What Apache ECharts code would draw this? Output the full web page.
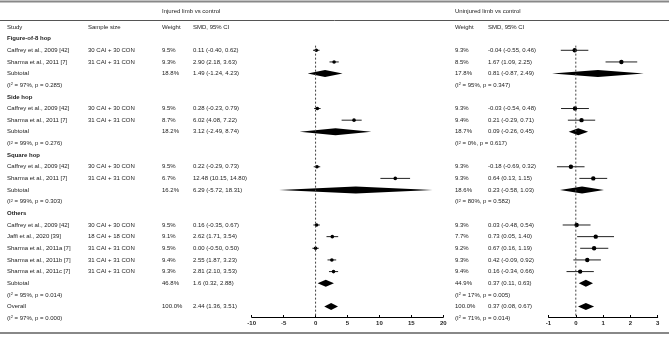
<!DOCTYPE html>
<html>
<head>
<meta charset="utf-8">
<style>
  html, body { margin: 0; padding: 0; background: #fff; }
  #chart { width: 669px; height: 337px; }
</style>
<script src="https://cdn.jsdelivr.net/npm/echarts@6/dist/echarts.min.js"></script>
</head>
<body>
<div id="chart"></div>
<script>
var groups = ['Figure-of-8 hop', 'Side hop', 'Square hop', 'Others'];
var studies = ['Caffrey et al., 2009 [42]', 'Sharma et al., 2011 [7]', 'Caffrey et al., 2009 [42]', 'Sharma et al., 2011 [7]',
  'Caffrey et al., 2009 [42]', 'Sharma et al., 2011 [7]', 'Caffrey et al., 2009 [42]', 'Jaffi et al., 2020 [39]',
  'Sharma et al., 2011a [7]', 'Sharma et al., 2011b [7]', 'Sharma et al., 2011c [7]'];
var studyGroup = [0, 0, 1, 1, 2, 2, 3, 3, 3, 3, 3];
var sampleSizes = ['30 CAI + 30 CON', '31 CAI + 31 CON', '30 CAI + 30 CON', '31 CAI + 31 CON', '30 CAI + 30 CON',
  '31 CAI + 31 CON', '30 CAI + 30 CON', '18 CAI + 18 CON', '31 CAI + 31 CON', '31 CAI + 31 CON', '31 CAI + 31 CON'];

var injWeight = [9.5, 9.3, 9.5, 8.7, 9.5, 6.7, 9.5, 9.1, 9.5, 9.4, 9.3];
var injSmd = [0.11, 2.90, 0.28, 6.02, 0.22, 12.48, 0.16, 2.62, 0.00, 2.55, 2.81];
var injLo = [-0.40, 2.18, -0.23, 4.08, -0.29, 10.15, -0.35, 1.71, -0.50, 1.87, 2.10];
var injHi = [0.62, 3.63, 0.79, 7.22, 0.73, 14.80, 0.67, 3.54, 0.50, 3.23, 3.53];

var uninjWeight = [9.3, 8.5, 9.3, 9.4, 9.3, 9.3, 9.3, 7.7, 9.2, 9.3, 9.4];
var uninjSmd = [-0.04, 1.67, -0.03, 0.21, -0.18, 0.64, 0.03, 0.73, 0.67, 0.42, 0.16];
var uninjLo = [-0.55, 1.09, -0.54, -0.29, -0.69, 0.13, -0.48, 0.05, 0.16, -0.09, -0.34];
var uninjHi = [0.46, 2.25, 0.48, 0.71, 0.32, 1.15, 0.54, 1.40, 1.19, 0.92, 0.66];

// subtotals per group, last one is the overall estimate
var poolLabels = ['Subtotal', 'Subtotal', 'Subtotal', 'Subtotal', 'Overall'];
var injPoolWeight = [18.8, 18.2, 16.2, 46.8, 100.0];
var injPoolSmd = [1.49, 3.12, 6.29, 1.6, 2.44];
var injPoolLo = [-1.24, -2.49, -5.72, 0.32, 1.36];
var injPoolHi = [4.23, 8.74, 18.31, 2.88, 3.51];
var injI2 = [97, 99, 99, 95, 97];
var injP = ['0.285', '0.276', '0.303', '0.014', '0.000'];

var uninjPoolWeight = [17.8, 18.7, 18.6, 44.9, 100.0];
var uninjPoolSmd = [0.81, 0.09, 0.23, 0.37, 0.37];
var uninjPoolLo = [-0.87, -0.26, -0.58, 0.11, 0.08];
var uninjPoolHi = [2.49, 0.45, 1.03, 0.63, 0.67];
var uninjI2 = [95, 0, 80, 17, 71];
var uninjP = ['0.347', '0.617', '0.582', '0.005', '0.014'];

var injTicks = { min: -10, max: 20, interval: 5 };
var uninjTicks = { min: -1, max: 3, interval: 1 };

var ink = '#222';
var font = '"Liberation Sans", Arial, sans-serif';
var COL = { study: 7, sample: 88, lw: 162, lt: 193, rw: 455, rt: 488 };

// row layout: header, then group / studies / subtotal / heterogeneity
var rows = [{ kind: 'head' }];
groups.forEach(function (g, gi) {
  rows.push({ kind: 'group', label: g });
  studyGroup.forEach(function (sg, si) {
    if (sg === gi) rows.push({ kind: 'study', idx: si });
  });
  rows.push({ kind: 'pool', idx: gi });
  rows.push({ kind: 'het', idx: gi });
});
rows.push({ kind: 'pool', idx: 4 });
rows.push({ kind: 'het', idx: 4 });

function ci2(e, l, h) { return e.toFixed(2) + ' (' + l.toFixed(2) + ', ' + h.toFixed(2) + ')'; }
function ciRaw(e, l, h) { return String(e) + ' (' + l + ', ' + h + ')'; }
function het(i2, p) { return '(I{sup|2} = ' + i2 + '%, {it|p} = ' + p + ')'; }

function txt(x, y, s, extra) {
  var st = { text: s, fill: ink, fontSize: 6, fontFamily: font, verticalAlign: 'middle', align: 'left',
    rich: { sup: { fontSize: 4, verticalAlign: 'top' }, it: { fontStyle: 'italic' } } };
  if (extra) Object.keys(extra).forEach(function (k) { st[k] = extra[k]; });
  return { type: 'text', x: x, y: y, style: st };
}

function renderTable(params, api) {
  var r = rows[params.dataIndex];
  var y = api.coord([0, api.value(1)])[1];
  var out = [];
  if (r.kind === 'head') {
    out.push(txt(COL.study, y, 'Study'), txt(COL.sample, y, 'Sample size'), txt(COL.lw, y, 'Weight'),
      txt(COL.lt, y, 'SMD, 95% CI'), txt(COL.rw, y, 'Weight'), txt(COL.rt, y, 'SMD, 95% CI'));
  } else if (r.kind === 'group') {
    out.push(txt(COL.study, y, r.label, { fontWeight: 'bold' }));
  } else if (r.kind === 'study') {
    var i = r.idx;
    out.push(txt(COL.study, y, studies[i]), txt(COL.sample, y, sampleSizes[i]),
      txt(COL.lw, y, injWeight[i].toFixed(1) + '%'), txt(COL.lt, y, ci2(injSmd[i], injLo[i], injHi[i])),
      txt(COL.rw, y, uninjWeight[i].toFixed(1) + '%'), txt(COL.rt, y, ci2(uninjSmd[i], uninjLo[i], uninjHi[i])));
  } else if (r.kind === 'pool') {
    var j = r.idx;
    out.push(txt(COL.study, y, poolLabels[j]),
      txt(COL.lw, y, injPoolWeight[j].toFixed(1) + '%'), txt(COL.lt, y, ciRaw(injPoolSmd[j], injPoolLo[j], injPoolHi[j])),
      txt(COL.rw, y, uninjPoolWeight[j].toFixed(1) + '%'), txt(COL.rt, y, ciRaw(uninjPoolSmd[j], uninjPoolLo[j], uninjPoolHi[j])));
  } else {
    out.push(txt(COL.study, y, het(injI2[r.idx], injP[r.idx])), txt(COL.rw, y, het(uninjI2[r.idx], uninjP[r.idx])));
  }
  return { type: 'group', children: out };
}

function forestData(est, lo, hi, pEst, pLo, pHi) {
  var data = [];
  rows.forEach(function (r, ri) {
    if (r.kind === 'study') data.push([est[r.idx], ri, lo[r.idx], hi[r.idx], 0]);
    if (r.kind === 'pool') data.push([pEst[r.idx], ri, pLo[r.idx], pHi[r.idx], 1]);
  });
  return data;
}

function makeForest(rad, dh) {
  return function (params, api) {
    var c = api.coord([api.value(0), api.value(1)]);
    var a = api.coord([api.value(2), api.value(1)]);
    var b = api.coord([api.value(3), api.value(1)]);
    if (api.value(4)) {
      return { type: 'polygon', shape: { points: [[a[0], c[1]], [c[0], c[1] - dh], [b[0], c[1]], [c[0], c[1] + dh]] },
        style: { fill: '#000' } };
    }
    return { type: 'group', children: [
      { type: 'line', shape: { x1: a[0], y1: c[1], x2: b[0], y2: c[1] }, style: { stroke: '#222', lineWidth: 1 } },
      { type: 'circle', shape: { cx: c[0], cy: c[1], r: rad }, style: { fill: '#000' } }
    ] };
  };
}

function xAxisFor(gi, t) {
  return {
    type: 'value', gridIndex: gi, position: 'bottom', min: t.min, max: t.max, interval: t.interval,
    axisLine: { onZero: false, lineStyle: { color: '#000', width: 1 } },
    axisTick: { inside: true, length: 2, lineStyle: { color: '#000' } },
    axisLabel: { color: ink, fontSize: 6, fontWeight: 'bold', fontFamily: font, margin: 3 },
    splitLine: { show: false }
  };
}
function yAxisFor(gi) {
  return { type: 'value', gridIndex: gi, inverse: true, min: 0, max: 24.9, show: false };
}

var zeroLine = function (xi) {
  return {
    type: 'line', xAxisIndex: xi, yAxisIndex: xi, symbol: 'none', silent: true,
    lineStyle: { color: '#444', width: 1, type: [2, 2] },
    data: [[0, 1.6], [0, 24.9]]
  };
};

var chart = echarts.init(document.getElementById('chart'));
chart.setOption({
  animation: false,
  backgroundColor: '#fff',
  grid: [
    { left: 251.7, width: 191.6, top: 27, height: 290 },
    { left: 548.5, width: 109.2, top: 27, height: 290 }
  ],
  xAxis: [xAxisFor(0, injTicks), xAxisFor(1, uninjTicks)],
  yAxis: [yAxisFor(0), yAxisFor(1)],
  graphic: [
    { type: 'line', shape: { x1: 0, y1: 1.5, x2: 669, y2: 1.5 }, style: { stroke: '#888', lineWidth: 2 } },
    { type: 'line', shape: { x1: 0, y1: 20.5, x2: 669, y2: 20.5 }, style: { stroke: '#555', lineWidth: 1 } },
    { type: 'line', shape: { x1: 0, y1: 333, x2: 669, y2: 333 }, style: { stroke: '#888', lineWidth: 2 } },
    { type: 'text', x: COL.lw, y: 11, style: { text: 'Injured limb vs control', fill: ink, fontSize: 6, fontFamily: font, verticalAlign: 'middle' } },
    { type: 'text', x: COL.rw, y: 11, style: { text: 'Uninjured limb vs control', fill: ink, fontSize: 6, fontFamily: font, verticalAlign: 'middle' } }
  ],
  series: [
    zeroLine(0),
    zeroLine(1),
    {
      type: 'custom', xAxisIndex: 0, yAxisIndex: 0, silent: true, clip: false,
      renderItem: renderTable,
      data: rows.map(function (r, i) { return [0, i]; })
    },
    {
      type: 'custom', xAxisIndex: 0, yAxisIndex: 0, silent: true, clip: false,
      renderItem: makeForest(1.8, 3.5),
      data: forestData(injSmd, injLo, injHi, injPoolSmd, injPoolLo, injPoolHi)
    },
    {
      type: 'custom', xAxisIndex: 1, yAxisIndex: 1, silent: true, clip: false,
      renderItem: makeForest(2.2, 3.5),
      data: forestData(uninjSmd, uninjLo, uninjHi, uninjPoolSmd, uninjPoolLo, uninjPoolHi)
    }
  ]
});
window.addEventListener('resize', function () { chart.resize(); });
</script>
</body>
</html>
